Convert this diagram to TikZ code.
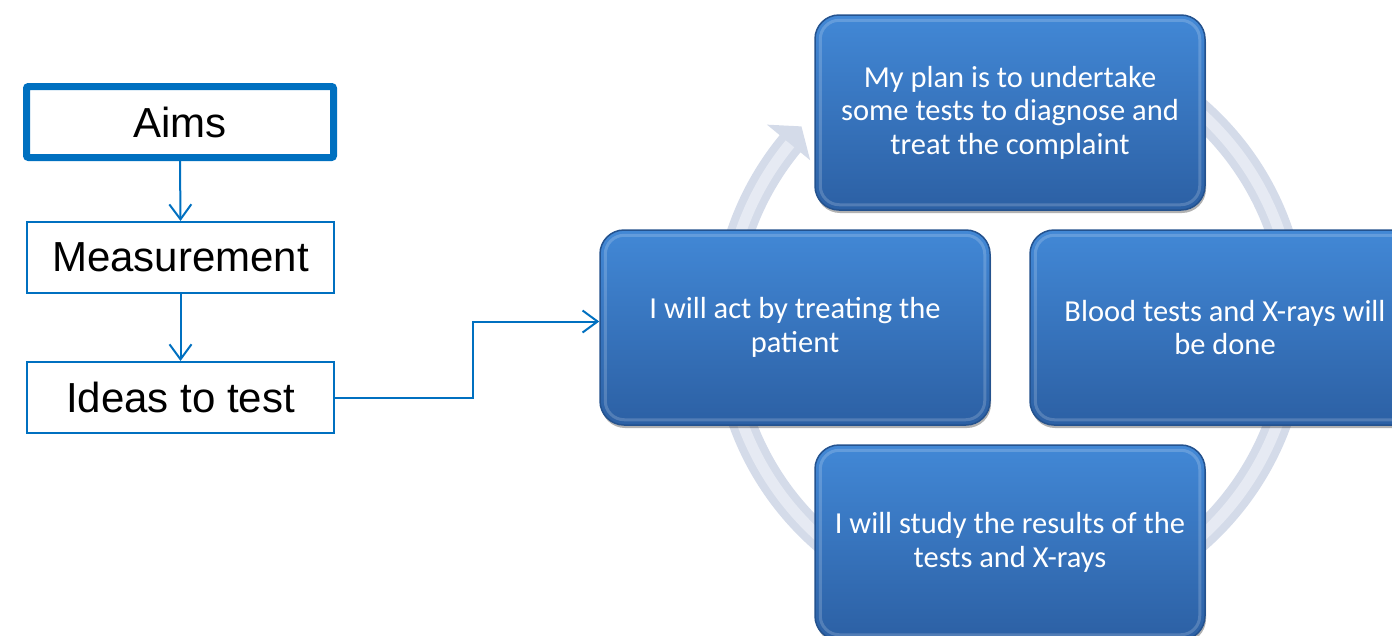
\documentclass[tikz,border=0pt]{standalone}
\usepackage{fontspec}
\setmainfont{Liberation Sans}
\newfontfamily\calib{Carlito}
\usetikzlibrary{arrows.meta,shadows}
\definecolor{lineblue}{RGB}{0,112,192}
\definecolor{boxtop}{RGB}{66,136,214}
\definecolor{boxbot}{RGB}{44,96,164}
\definecolor{boxedge}{RGB}{36,82,142}
\definecolor{ringc}{RGB}{212,219,233}
\definecolor{ringl}{RGB}{230,234,243}
\begin{document}
\begin{tikzpicture}[x=1pt,y=-1pt,
  flow/.style={draw=lineblue, line width=2pt, minimum width=307pt, minimum height=71pt,
    inner sep=0pt, font=\fontsize{42}{50}\selectfont},
  conn/.style={draw=lineblue, line width=2pt, -{Straight Barb[length=15pt,width=22pt,line width=2pt]}},
  cyc/.style={rounded corners=24pt, top color=boxtop, bottom color=boxbot, draw=boxedge,
    line width=1.5pt, minimum width=390pt, minimum height=195pt, text=white, align=center,
    font=\calib\fontsize{30.5}{33.5}\selectfont,
    drop shadow={shadow xshift=1pt, shadow yshift=-3pt, fill=black, opacity=0.3}},
  bevel/.style={draw=white, opacity=0.18, line width=3pt, rounded corners=19pt},
  ringarc/.style={line width=27pt, draw=ringc},
  ringlight/.style={line width=11pt, draw=ringl},
]
\useasboundingbox (0,0) rectangle (1392,635);
\clip (0,0) rectangle (1392,635);

% cycle ring
\begin{scope}[shift={(1010,325)}, yscale=-1]
  \draw[ringarc] (100:285) arc[start angle=100, end angle=-220, radius=285];
  \draw[ringlight] (100:285) arc[start angle=100, end angle=-220, radius=285];
  \fill[ringc] (140.5:259) -- (136.4:288) -- (140.5:315) -- cycle;
\end{scope}

% cycle boxes
\node[cyc] (top) at (1010,112.5) {My plan is to undertake\\some tests to diagnose and\\treat the complaint};
\node[cyc] (left) at (795,327.5) {I will act by treating the\\patient};
\node[cyc] (right) at (1225,327.5) {Blood tests and X-rays will\\be done};
\node[cyc] (bottom) at (1010,542.5) {I will study the results of the\\tests and X-rays};
\foreach \n in {top,left,right,bottom}
  \draw[bevel] ([shift={(6,6)}]\n.north west) rectangle ([shift={(-6,-6)}]\n.south east);

% flow boxes
\node[flow, line width=7pt, rounded corners=2pt] (aims) at (180,122) {Aims};
\node[flow] (meas) at (180.5,257.5) {Measurement};
\node[flow] (ideas) at (180.5,397.5) {Ideas to test};

\draw[conn] (aims.south) -- (meas.north);
\draw[conn] (meas.south) -- (ideas.north);
\draw[conn] (ideas.east) -- ++(138,0) |- ([yshift=6pt]left.west);
\end{tikzpicture}
\end{document}
